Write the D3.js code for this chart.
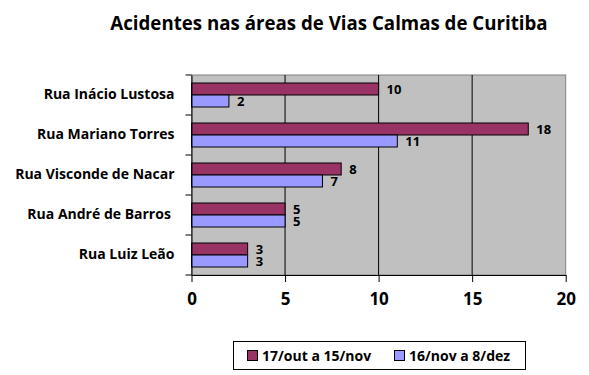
<!DOCTYPE html>
<html>
<head>
<meta charset="utf-8">
<script src="https://cdn.jsdelivr.net/npm/d3@7"></script>
<style>
body { margin: 0; background: #fff; }
text { font-family: "Open Sans", "DejaVu Sans", sans-serif; font-weight: bold; fill: #000; white-space: pre; }
</style>
</head>
<body>
<script>
var categories = ["Rua Inácio Lustosa", "Rua Mariano Torres", "Rua Visconde de Nacar", "Rua André de Barros ", "Rua Luiz Leão"];
var seriesNames = ["17/out a 15/nov", "16/nov a 8/dez"];
var series1 = [10, 18, 8, 5, 3];
var series2 = [2, 11, 7, 5, 3];
var xTicks = [0, 5, 10, 15, 20];
var colors = ["#993366", "#9999ff"];

var svg = d3.select("body").append("svg")
    .attr("width", 589)
    .attr("height", 375);

var plotLeft = 191.5, plotRight = 565.7, plotTop = 75, plotBottom = 275;

var x = d3.scaleLinear().domain([0, 20]).range([plotLeft, plotRight]);
var y = d3.scaleBand().domain(categories).range([plotTop, plotBottom]);
var inner = d3.scaleBand().domain([0, 1]).range([8, 32]);

// title
svg.append("text")
    .attr("x", 329)
    .attr("y", 30)
    .attr("text-anchor", "middle")
    .style("font-size", "18.7px")
    .text("Acidentes nas áreas de Vias Calmas de Curitiba");

// plot area
svg.append("rect")
    .attr("x", plotLeft)
    .attr("y", plotTop)
    .attr("width", plotRight - plotLeft)
    .attr("height", plotBottom - plotTop)
    .attr("fill", "#c0c0c0")
    .attr("stroke", "#808080");

// gridlines
svg.append("g")
    .selectAll("line")
    .data(xTicks.slice(1, -1))
    .enter().append("line")
        .attr("x1", function(d) { return x(d); })
        .attr("x2", function(d) { return x(d); })
        .attr("y1", plotTop)
        .attr("y2", plotBottom)
        .attr("stroke", "#000");

// bars
var rows = categories.map(function(c, i) { return [series1[i], series2[i]]; });
var groups = svg.append("g").selectAll("g")
    .data(rows)
    .enter().append("g")
        .attr("transform", function(d, i) { return "translate(0," + y(categories[i]) + ")"; });

groups.selectAll("rect")
    .data(function(d) { return d; })
    .enter().append("rect")
        .attr("x", x(0))
        .attr("y", function(d, j) { return inner(j); })
        .attr("width", function(d) { return x(d) - x(0); })
        .attr("height", inner.bandwidth())
        .attr("fill", function(d, j) { return colors[j]; })
        .attr("stroke", "#000")
        .attr("stroke-width", 1);

groups.selectAll("text")
    .data(function(d) { return d; })
    .enter().append("text")
        .attr("x", function(d) { return x(d) + 8; })
        .attr("y", function(d, j) { return inner(j) + inner.bandwidth() / 2; })
        .attr("dy", "0.35em")
        .style("font-size", "13px")
        .text(function(d) { return d; });

// y axis
var yAxis = svg.append("g")
    .attr("transform", "translate(" + plotLeft + ",0)")
    .call(d3.axisLeft(y).tickSize(0).tickPadding(17));
yAxis.select(".domain").attr("stroke", "#000");
yAxis.selectAll("text").style("font-size", "14px").style("font-family", null);
yAxis.append("g").selectAll("line")
    .data(d3.range(categories.length + 1))
    .enter().append("line")
        .attr("x1", -6).attr("x2", 0)
        .attr("y1", function(d) { return plotTop + d * y.step(); })
        .attr("y2", function(d) { return plotTop + d * y.step(); })
        .attr("stroke", "#000");

// x axis
var xAxis = svg.append("g")
    .attr("transform", "translate(0," + plotBottom + ")")
    .call(d3.axisBottom(x).tickValues(xTicks).tickSize(7).tickPadding(11).tickSizeOuter(0));
xAxis.select(".domain").attr("stroke", "#000");
xAxis.selectAll("line").attr("stroke", "#000");
xAxis.selectAll("text").style("font-size", "17px").style("font-family", null);

// legend
var legend = svg.append("g");
legend.append("rect")
    .attr("x", 233.5).attr("y", 341.5)
    .attr("width", 292).attr("height", 28)
    .attr("fill", "#fff")
    .attr("stroke", "#000");
var legendX = [247, 394];
seriesNames.forEach(function(name, i) {
    legend.append("rect")
        .attr("x", legendX[i] + 0.5).attr("y", 350.5)
        .attr("width", 10).attr("height", 10)
        .attr("fill", colors[i])
        .attr("stroke", "#000");
    legend.append("text")
        .attr("x", legendX[i] + 15)
        .attr("y", 356)
        .attr("dy", "0.35em")
        .style("font-size", "14px")
        .text(name);
});
</script>
</body>
</html>
